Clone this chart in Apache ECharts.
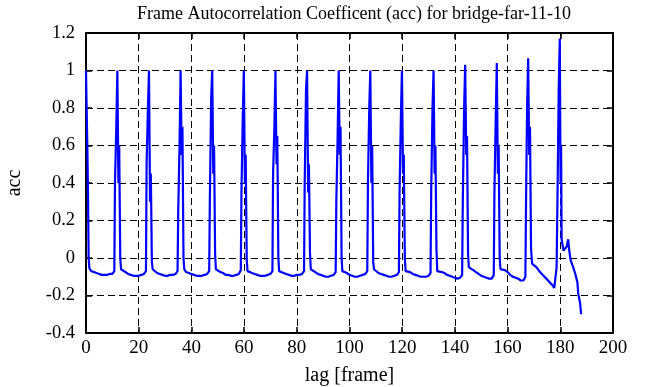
<!DOCTYPE html>
<html>
<head>
<meta charset="utf-8">
<script src="https://cdn.jsdelivr.net/npm/echarts@6/dist/echarts.min.js"></script>
<style>html,body{margin:0;padding:0;background:#fff;}#c{width:656px;height:387px;}</style>
</head>
<body>
<div id="c"></div>
<script>
const titleText = 'Frame Autocorrelation Coefficent (acc) for bridge-far-11-10';
const xName = 'lag [frame]';
const yName = 'acc';
const xTicks = [0, 20, 40, 60, 80, 100, 120, 140, 160, 180, 200];
const yTicks = [-0.4, -0.2, 0, 0.2, 0.4, 0.6, 0.8, 1, 1.2];

const lag = [
  0, 0.3, 0.5, 0.75, 1, 1.3, 2, 3, 4, 5, 6, 7, 8, 9, 10, 10.75,
  11, 11.5, 11.9, 12.3, 12.6, 13, 13.3, 14, 15, 16, 17, 18, 19, 20, 21, 22, 22.75,
  23, 23.5, 23.9, 24.3, 24.6, 25, 25.3, 26, 27, 28, 29, 30, 31, 32, 33, 34, 34.75,
  35, 35.5, 35.9, 36.3, 36.6, 37, 37.3, 38, 39, 40, 41, 42, 43, 44, 45, 46, 46.75,
  47, 47.5, 47.9, 48.3, 48.6, 49, 49.3, 50, 51, 52, 53, 54, 55, 56, 57, 58, 58.75,
  59, 59.5, 59.9, 60.3, 60.6, 61, 61.3, 62, 63, 64, 65, 66, 67, 68, 69, 70, 70.75,
  71, 71.5, 71.9, 72.3, 72.6, 73, 73.3, 74, 75, 76, 77, 78, 79, 80, 81, 82, 82.75,
  83, 83.5, 83.9, 84.3, 84.6, 85, 85.3, 86, 87, 88, 89, 90, 91, 92, 93, 94, 94.75,
  95, 95.5, 95.9, 96.3, 96.6, 97, 97.3, 98, 99, 100, 101, 102, 103, 104, 105, 106, 106.75,
  107, 107.5, 107.9, 108.3, 108.6, 109, 109.3, 110, 111, 112, 113, 114, 115, 116, 117, 118, 118.75,
  119, 119.5, 119.9, 120.3, 120.6, 121, 121.3, 122, 123, 124, 125, 126, 127, 128, 129, 130, 130.75,
  131, 131.5, 131.9, 132.3, 132.6, 133, 133.3, 134, 135, 136, 137, 138, 139, 140, 141, 142, 142.75,
  143, 143.5, 143.9, 144.3, 144.6, 145, 145.3, 146, 147, 148, 149, 150, 151, 152, 153, 154, 154.75,
  155, 155.5, 155.9, 156.3, 156.6, 157, 157.3, 158, 159, 160, 161, 162, 163, 164, 165, 166, 166.75,
  167, 167.4, 167.8, 168.2, 168.5, 168.9, 169.3, 170, 171, 172, 173, 174, 175, 176, 177, 177.7,
  178.2, 178.6, 179, 179.4, 179.8, 180.1, 180.3, 180.5, 181.2, 181.8, 182.4, 183, 183.4, 183.9,
  184.9, 185.6, 186.5, 186.8, 187.5, 187.9
];

const acc = [
  1.00, 0.75, 0.60, 0.35, 0.00, -0.055, -0.07, -0.075, -0.08, -0.085, -0.09, -0.09, -0.09, -0.085, -0.085, -0.07,
  0.40, 0.70, 1.00, 0.40, 0.60, 0.00, -0.06, -0.07, -0.075, -0.085, -0.09, -0.095, -0.095, -0.095, -0.09, -0.085, -0.07,
  0.50, 0.80, 1.00, 0.30, 0.45, -0.02, -0.06, -0.07, -0.08, -0.085, -0.09, -0.095, -0.095, -0.09, -0.09, -0.085, -0.07,
  0.25, 0.60, 1.00, 0.55, 0.70, 0.00, -0.06, -0.075, -0.08, -0.085, -0.09, -0.095, -0.095, -0.095, -0.09, -0.085, -0.07,
  0.30, 0.85, 1.00, 0.45, 0.60, 0.02, -0.06, -0.07, -0.075, -0.08, -0.09, -0.09, -0.095, -0.095, -0.09, -0.085, -0.065,
  0.35, 0.75, 1.00, 0.40, 0.55, -0.01, -0.07, -0.075, -0.08, -0.085, -0.09, -0.095, -0.095, -0.095, -0.09, -0.085, -0.07,
  0.45, 0.70, 1.00, 0.50, 0.65, 0.00, -0.07, -0.075, -0.08, -0.085, -0.09, -0.095, -0.095, -0.09, -0.09, -0.085, -0.07,
  0.40, 0.90, 1.00, 0.35, 0.50, 0.03, -0.06, -0.07, -0.075, -0.085, -0.09, -0.095, -0.10, -0.10, -0.095, -0.09, -0.075,
  0.30, 0.65, 1.00, 0.55, 0.70, 0.00, -0.07, -0.075, -0.08, -0.09, -0.095, -0.10, -0.10, -0.095, -0.09, -0.085, -0.07,
  0.40, 0.80, 1.00, 0.40, 0.60, -0.02, -0.06, -0.07, -0.08, -0.085, -0.09, -0.095, -0.10, -0.10, -0.095, -0.09, -0.075,
  0.35, 0.75, 1.00, 0.45, 0.55, 0.00, -0.07, -0.07, -0.075, -0.085, -0.09, -0.095, -0.10, -0.10, -0.10, -0.095, -0.08,
  0.35, 0.80, 1.00, 0.45, 0.60, 0.05, -0.07, -0.07, -0.075, -0.08, -0.09, -0.095, -0.10, -0.105, -0.11, -0.105, -0.09,
  0.30, 0.80, 1.03, 0.55, 0.65, 0.02, -0.05, -0.06, -0.065, -0.075, -0.085, -0.095, -0.10, -0.105, -0.11, -0.11, -0.09,
  0.35, 0.75, 1.04, 0.45, 0.60, 0.00, -0.06, -0.06, -0.065, -0.075, -0.09, -0.10, -0.105, -0.11, -0.12, -0.12, -0.10,
  0.30, 0.80, 1.065, 0.55, 0.70, 0.05, -0.03, -0.04, -0.05, -0.07, -0.085, -0.10, -0.115, -0.13, -0.145, -0.16,
  -0.15, -0.05, 0.40, 0.90, 1.17, 0.40, 0.60, 0.10, 0.04, 0.03, 0.06, 0.10, 0.04, -0.01,
  -0.05, -0.08, -0.13, -0.19, -0.24, -0.30
];

const points = lag.map((x, i) => [x, acc[i]]);
const serif = 'Liberation Serif, DejaVu Serif, serif';

const chart = echarts.init(document.getElementById('c'), null, { renderer: 'canvas' });
const tickStyle = { show: true, inside: true, length: 6, lineStyle: { color: '#000', width: 1.5 } };
const lineStyle = { show: true, onZero: false, lineStyle: { color: '#000', width: 2 } };
const split = { show: true, lineStyle: { color: '#000', width: 1, type: [7, 4] } };

chart.setOption({
  animation: false,
  backgroundColor: '#fff',
  title: {
    text: titleText, left: 349, top: 0, textAlign: 'center',
    textStyle: { fontFamily: serif, fontWeight: 'normal', fontSize: 18, color: '#000' }
  },
  grid: { left: 86, right: 43, top: 33, bottom: 54, containLabel: false, outerBoundsMode: 'none' },
  xAxis: [
    { type: 'value', min: xTicks[0], max: xTicks[xTicks.length - 1], interval: 20, position: 'bottom',
      name: xName, nameLocation: 'middle', nameGap: 33,
      nameTextStyle: { fontFamily: serif, fontSize: 20, color: '#000' },
      axisLine: lineStyle, axisTick: tickStyle, splitLine: split,
      axisLabel: { fontFamily: serif, fontSize: 19, color: '#000', margin: 6 } },
    { type: 'value', min: xTicks[0], max: xTicks[xTicks.length - 1], interval: 20, position: 'top',
      axisLine: lineStyle, axisTick: tickStyle, splitLine: { show: false }, axisLabel: { show: false } }
  ],
  yAxis: [
    { type: 'value', min: yTicks[0], max: yTicks[yTicks.length - 1], interval: 0.2, position: 'left',
      name: yName, nameLocation: 'middle', nameGap: 61, nameRotate: 90,
      nameTextStyle: { fontFamily: serif, fontSize: 20, color: '#000' },
      axisLine: lineStyle, axisTick: tickStyle, splitLine: split,
      axisLabel: { fontFamily: serif, fontSize: 18.5, color: '#000', margin: 11,
        formatter: v => String(Math.round(v * 10) / 10) } },
    { type: 'value', min: yTicks[0], max: yTicks[yTicks.length - 1], interval: 0.2, position: 'right',
      axisLine: lineStyle, axisTick: tickStyle, splitLine: { show: false }, axisLabel: { show: false } }
  ],
  series: [{
    type: 'line', xAxisIndex: 0, yAxisIndex: 0, data: points,
    showSymbol: false, symbol: 'none',
    lineStyle: { color: '#0000ff', width: 2.2 },
    z: 3
  }]
});
</script>
</body>
</html>
